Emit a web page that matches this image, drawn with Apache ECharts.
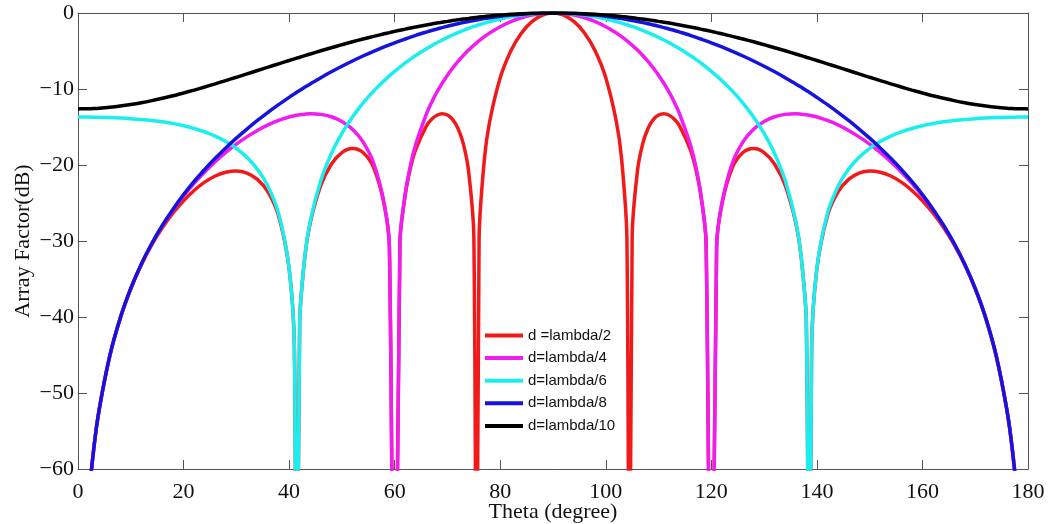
<!DOCTYPE html>
<html>
<head>
<meta charset="utf-8">
<script src="https://cdn.jsdelivr.net/npm/echarts@6/dist/echarts.min.js"></script>
<style>
  html, body { margin: 0; padding: 0; background: #fff; }
  #main { width: 1049px; height: 524px; }
</style>
</head>
<body>
<div id="main"></div>
<script>
// theta samples (degree), extra points round the nulls and lobe tops
var thetaDeg = [0, 1, 2, 3, 4, 6, 8, 10, 12, 14, 16, 18, 20, 22, 24, 26, 28, 30, 32, 34, 36, 38, 40, 41, 41.41, 42, 43,
  44, 46, 48, 50, 52, 54, 56, 58, 59, 60, 61, 62, 63, 64, 66, 67, 68, 69, 70, 71, 72, 73, 74, 75, 75.52, 76, 77, 78, 80,
  82, 84, 86, 88, 90,
  92, 94, 96, 98, 100, 102, 103, 104, 104.48, 105, 106, 107, 108, 109, 110, 111, 112, 113, 114, 116, 117, 118, 119, 120,
  121, 122, 124, 126, 128, 130, 132, 134, 136, 137, 138, 138.59, 139, 140, 142, 144, 146, 148, 150, 152, 154, 156, 158,
  160, 162, 164, 166, 168, 170, 172, 174, 176, 177, 178, 179, 180];

// array factor in dB (-100 = null, below the axis)
var afLambda2 = [-100, -76.48, -64.29, -57.25, -52.23, -45.18, -40.17, -36.29, -33.13, -30.49, -28.24, -26.32, -24.70,
  -23.35, -22.26, -21.45, -20.95, -20.79, -21.06, -21.89, -23.55, -26.67, -33.64, -44.10, -100, -40.71, -31.95, -27.62,
  -22.69, -19.90, -18.36, -17.83, -18.36, -20.32, -25.17, -30.74, -100, -30.13, -23.95, -20.37, -17.93, -14.88, -13.99,
  -13.46, -13.26, -13.43, -14.03, -15.19, -17.19, -20.78, -29.37, -100, -29.54, -19.21, -14.28, -8.51, -4.99, -2.66,
  -1.14, -0.28, 0,
  -0.28, -1.14, -2.66, -4.99, -8.51, -14.28, -19.21, -29.54, -100, -29.37, -20.78, -17.19, -15.19, -14.03, -13.43, -13.26,
  -13.46, -13.99, -14.88, -17.93, -20.37, -23.95, -30.13, -100, -30.74, -25.17, -20.32, -18.36, -17.83, -18.36, -19.90,
  -22.69, -27.62, -31.95, -40.71, -100, -44.10, -33.64, -26.67, -23.55, -21.89, -21.06, -20.79, -20.95, -21.45, -22.26,
  -23.35, -24.70, -26.32, -28.24, -30.49, -33.13, -36.29, -40.17, -45.18, -52.23, -57.25, -64.29, -76.48, -100];

var afLambda4 = [-100, -76.48, -64.29, -57.25, -52.23, -45.18, -40.16, -36.25, -33.05, -30.33, -27.98, -25.91, -24.06,
  -22.40, -20.91, -19.56, -18.35, -17.26, -16.30, -15.46, -14.73, -14.14, -13.69, -13.52, -13.46, -13.39, -13.31, -13.26,
  -13.34, -13.65, -14.27, -15.30, -16.96, -19.71, -25.02, -30.71, -100, -30.09, -23.79, -20.01, -17.26, -13.30, -11.76,
  -10.42, -9.24, -8.18, -7.24, -6.37, -5.59, -4.88, -4.24, -3.92, -3.65, -3.11, -2.63, -1.80, -1.14, -0.63, -0.28, -0.07, 0,
  -0.07, -0.28, -0.63, -1.14, -1.80, -2.63, -3.11, -3.65, -3.92, -4.24, -4.88, -5.59, -6.37, -7.24, -8.18, -9.24, -10.42,
  -11.76, -13.30, -17.26, -20.01, -23.79, -30.09, -100, -30.71, -25.02, -19.71, -16.96, -15.30, -14.27, -13.65, -13.34,
  -13.26, -13.31, -13.39, -13.46, -13.52, -13.69, -14.14, -14.73, -15.46, -16.30, -17.26, -18.35, -19.56, -20.91, -22.40,
  -24.06, -25.91, -27.98, -30.33, -33.05, -36.25, -40.16, -45.18, -52.23, -57.25, -64.29, -76.48, -100];

var afLambda6 = [-13.69, -13.69, -13.70, -13.71, -13.72, -13.76, -13.82, -13.90, -14.01, -14.15, -14.32, -14.55, -14.83,
  -15.19, -15.63, -16.19, -16.90, -17.80, -18.99, -20.57, -22.83, -26.37, -33.59, -44.10, -100, -40.70, -31.88, -27.43,
  -22.05, -18.52, -15.85, -13.69, -11.86, -10.28, -8.90, -8.27, -7.67, -7.11, -6.57, -6.07, -5.59, -4.71, -4.30, -3.91,
  -3.55, -3.21, -2.88, -2.58, -2.29, -2.02, -1.77, -1.65, -1.54, -1.33, -1.13, -0.78, -0.50, -0.28, -0.12, -0.03, 0,
  -0.03, -0.12, -0.28, -0.50, -0.78, -1.13, -1.33, -1.54, -1.65, -1.77, -2.02, -2.29, -2.58, -2.88, -3.21, -3.55, -3.91,
  -4.30, -4.71, -5.59, -6.07, -6.57, -7.11, -7.67, -8.27, -8.90, -10.28, -11.86, -13.69, -15.85, -18.52, -22.05, -27.43,
  -31.88, -40.70, -100, -44.10, -33.59, -26.37, -22.83, -20.57, -18.99, -17.80, -16.90, -16.19, -15.63, -15.19, -14.83,
  -14.55, -14.32, -14.15, -14.01, -13.90, -13.82, -13.76, -13.72, -13.71, -13.70, -13.69, -13.69];

var afLambda8 = [-100, -76.48, -64.29, -57.25, -52.23, -45.18, -40.15, -36.24, -33.02, -30.30, -27.92, -25.81, -23.90,
  -22.17, -20.59, -19.12, -17.75, -16.47, -15.27, -14.14, -13.07, -12.06, -11.10, -10.64, -10.45, -10.19, -9.75, -9.33,
  -8.51, -7.74, -7.01, -6.32, -5.66, -5.05, -4.47, -4.19, -3.92, -3.66, -3.42, -3.18, -2.94, -2.51, -2.30, -2.11, -1.92,
  -1.74, -1.57, -1.41, -1.26, -1.12, -0.98, -0.91, -0.85, -0.74, -0.63, -0.43, -0.28, -0.16, -0.07, -0.02, 0,
  -0.02, -0.07, -0.16, -0.28, -0.43, -0.63, -0.74, -0.85, -0.91, -0.98, -1.12, -1.26, -1.41, -1.57, -1.74, -1.92, -2.11,
  -2.30, -2.51, -2.94, -3.18, -3.42, -3.66, -3.92, -4.19, -4.47, -5.05, -5.66, -6.32, -7.01, -7.74, -8.51, -9.33, -9.75,
  -10.19, -10.45, -10.64, -11.10, -12.06, -13.07, -14.14, -15.27, -16.47, -17.75, -19.12, -20.59, -22.17, -23.90, -25.81,
  -27.92, -30.30, -33.02, -36.24, -40.15, -45.18, -52.23, -57.25, -64.29, -76.48, -100];

var afLambda10 = [-12.62, -12.61, -12.60, -12.57, -12.53, -12.41, -12.25, -12.05, -11.81, -11.53, -11.22, -10.89, -10.52,
  -10.14, -9.74, -9.32, -8.89, -8.46, -8.02, -7.57, -7.13, -6.69, -6.25, -6.03, -5.94, -5.82, -5.60, -5.39, -4.97, -4.57,
  -4.17, -3.79, -3.43, -3.08, -2.74, -2.58, -2.42, -2.27, -2.12, -1.97, -1.83, -1.57, -1.45, -1.32, -1.21, -1.10, -0.99,
  -0.89, -0.79, -0.71, -0.62, -0.58, -0.54, -0.47, -0.40, -0.28, -0.18, -0.10, -0.04, -0.01, 0,
  -0.01, -0.04, -0.10, -0.18, -0.28, -0.40, -0.47, -0.54, -0.58, -0.62, -0.71, -0.79, -0.89, -0.99, -1.10, -1.21, -1.32,
  -1.45, -1.57, -1.83, -1.97, -2.12, -2.27, -2.42, -2.58, -2.74, -3.08, -3.43, -3.79, -4.17, -4.57, -4.97, -5.39, -5.60,
  -5.82, -5.94, -6.03, -6.25, -6.69, -7.13, -7.57, -8.02, -8.46, -8.89, -9.32, -9.74, -10.14, -10.52, -10.89, -11.22,
  -11.53, -11.81, -12.05, -12.25, -12.41, -12.53, -12.57, -12.60, -12.61, -12.62];

var seriesNames = ['d =lambda/2', 'd=lambda/4', 'd=lambda/6', 'd=lambda/8', 'd=lambda/10'];
var seriesValues = [afLambda2, afLambda4, afLambda6, afLambda8, afLambda10];
var seriesColors = ['#f01a1a', '#f01cf0', '#1aeeee', '#1414dc', '#000000'];

var axisFont = 'Liberation Serif';
var axisColor = '#555';

function pairs(vals) {
  return thetaDeg.map(function (t, i) { return [t, vals[i]]; });
}
function minusSign(v) {
  return String(v).replace('-', '\u2212');
}

var chart = echarts.init(document.getElementById('main'), null, { renderer: 'canvas' });

var series = seriesNames.map(function (name, k) {
  return {
    name: name,
    type: 'line',
    data: pairs(seriesValues[k]),
    symbol: 'none',
    smooth: 0.3,
    clip: true,
    lineStyle: { color: seriesColors[k], width: 3.5 },
    itemStyle: { color: seriesColors[k] }
  };
});

var baseTick = { show: true, inside: true, length: 9, lineStyle: { color: axisColor } };
var baseLine = { show: true, onZero: false, lineStyle: { color: axisColor, width: 1 } };

chart.setOption({
  backgroundColor: '#fff',
  animation: false,
  grid: { left: 78, right: 21, top: 13, bottom: 55, containLabel: false, outerBoundsMode: 'none' },
  legend: {
    orient: 'vertical',
    left: 480,
    top: 323,
    icon: 'rect',
    itemWidth: 38,
    itemHeight: 4,
    itemGap: 7.6,
    textStyle: { fontFamily: 'Liberation Sans', fontSize: 15, color: '#111', lineHeight: 15 },
    data: seriesNames
  },
  xAxis: [{
    type: 'value', min: 0, max: 180, interval: 20, position: 'bottom',
    name: 'Theta (degree)', nameLocation: 'middle', nameGap: 32, nameMoveOverlap: false,
    nameTextStyle: { fontFamily: axisFont, fontSize: 22, color: '#111' },
    axisLine: baseLine, axisTick: baseTick, splitLine: { show: false },
    axisLabel: { fontFamily: axisFont, fontSize: 22, color: '#111', margin: 12 }
  }, {
    type: 'value', min: 0, max: 180, interval: 20, position: 'top',
    axisLine: baseLine, axisTick: baseTick, splitLine: { show: false },
    axisLabel: { show: false }
  }],
  yAxis: [{
    type: 'value', min: -60, max: 0, interval: 10, position: 'left',
    name: 'Array Factor(dB)', nameLocation: 'middle', nameGap: 44, nameMoveOverlap: false,
    nameTextStyle: { fontFamily: axisFont, fontSize: 22, color: '#111' },
    axisLine: baseLine, axisTick: baseTick, splitLine: { show: false },
    axisLabel: { fontFamily: axisFont, fontSize: 22, color: '#111', margin: 4, formatter: minusSign }
  }, {
    type: 'value', min: -60, max: 0, interval: 10, position: 'right',
    axisLine: baseLine, axisTick: baseTick, splitLine: { show: false },
    axisLabel: { show: false }
  }],
  series: series
});
</script>
</body>
</html>
